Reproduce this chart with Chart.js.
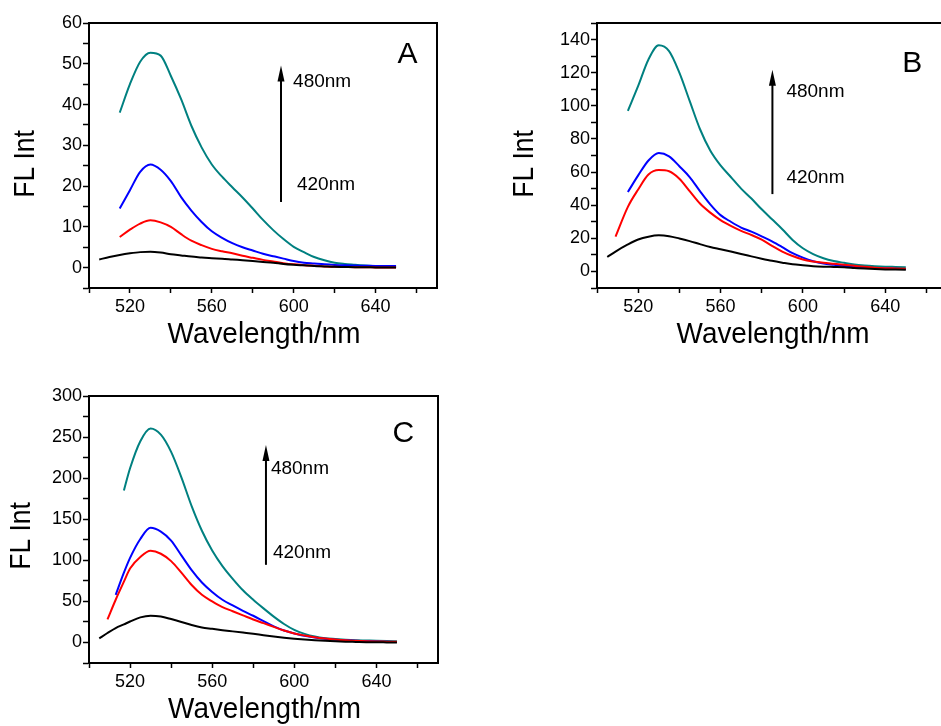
<!DOCTYPE html>
<html>
<head>
<meta charset="utf-8">
<script src="https://cdn.jsdelivr.net/npm/chart.js@4.4.1/dist/chart.umd.min.js"></script>
<style>
  html, body { margin: 0; padding: 0; background: #fff; overflow: hidden; }
  body { width: 941px; height: 726px; position: relative; }
  .panel { position: absolute; }
</style>
</head>
<body>
<div class="panel" style="left:0;top:0;width:470px;height:360px"><canvas id="chartA"></canvas></div>
<div class="panel" style="left:490px;top:0;width:480px;height:360px"><canvas id="chartB"></canvas></div>
<div class="panel" style="left:0;top:380px;width:470px;height:346px"><canvas id="chartC"></canvas></div>
<script>
// emission spectra, excitation 420 -> 480 nm (black, red, blue, teal)
const nmA = [505, 510, 515, 520, 525, 530, 535, 540, 545, 550, 555, 560, 565, 570, 575, 580, 585, 590, 595, 600, 605, 610, 615, 620, 625, 630, 635, 640, 645, 650];
const blackA = [2, 2.6, 3.1, 3.5, 3.8, 3.9, 3.7, 3.3, 3, 2.7, 2.5, 2.3, 2.2, 2, 1.8, 1.6, 1.4, 1.2, 0.9, 0.7, 0.55, 0.4, 0.3, 0.2, 0.15, 0.1, 0.1, 0.05, 0.05, 0];
const redA = [null, null, 7.5, 9.3, 10.8, 11.6, 11.1, 10, 8.2, 6.6, 5.5, 4.6, 4, 3.5, 2.9, 2.4, 1.9, 1.5, 1.1, 0.8, 0.6, 0.45, 0.3, 0.2, 0.15, 0.1, 0.1, 0.05, 0, 0];
const blueA = [null, null, 14.5, 19, 23.5, 25.3, 24, 21.2, 17.3, 14, 11.2, 8.9, 7.3, 6, 5, 4.2, 3.4, 2.8, 2.2, 1.6, 1.2, 1, 0.8, 0.65, 0.55, 0.5, 0.45, 0.4, 0.4, 0.4];
const tealA = [null, null, 38, 45, 50.5, 52.7, 52, 47, 41.3, 34.8, 29.5, 25.3, 22.3, 19.7, 17.2, 14.5, 11.7, 9.2, 7, 5.1, 3.8, 2.6, 1.8, 1.2, 0.9, 0.7, 0.5, 0.3, 0.2, 0.2];

const nmB = [505, 509, 515, 520, 525, 530, 535, 540, 545, 550, 555, 560, 565, 570, 575, 580, 585, 590, 595, 600, 605, 610, 615, 620, 625, 630, 635, 640, 645, 650];
const blackB = [8.7, 12, 16.3, 19.3, 21, 21.8, 21.3, 19.9, 18.3, 16.5, 14.8, 13.4, 12, 10.5, 9.1, 7.7, 6.4, 5.3, 4.3, 3.7, 3.2, 2.9, 2.7, 2.5, 2.1, 1.7, 1.4, 1.2, 1.1, 1];
const redB = [null, 21, 39, 49.5, 58.5, 61.2, 60.5, 56, 48.5, 41, 35.5, 31, 27.5, 24.5, 22, 19.2, 15.5, 12, 9.3, 7.2, 6, 5.2, 4.6, 4, 3.4, 2.8, 2.3, 2, 1.8, 1.6];
const blueB = [null, null, 48, 58, 67, 71.5, 69.5, 63.5, 57, 48.5, 40.5, 34, 30, 26.5, 24, 21.2, 18.2, 14.7, 11, 8.3, 6.2, 4.8, 4, 3.3, 2.8, 2.4, 2, 1.8, 1.6, 1.5];
const tealB = [null, null, 97, 112, 128, 136.5, 133, 120, 103, 86, 73, 64, 57, 50, 44, 37.5, 31.5, 25.5, 19, 14, 10.5, 8, 6.3, 5.2, 4.2, 3.6, 3.2, 2.9, 2.7, 2.5];

const nmC = [505, 509, 513, 517, 520, 525, 530, 535, 540, 545, 550, 555, 560, 565, 570, 575, 580, 585, 590, 595, 600, 605, 610, 615, 620, 625, 630, 635, 640, 645, 650];
const blackC = [5, 11.5, 17.5, 22, 25.5, 30.5, 32.5, 31.5, 28.5, 25, 21.2, 18.2, 16.6, 15, 13.5, 12, 10.5, 8.8, 7.2, 5.8, 4.6, 3.6, 2.7, 2, 1.4, 1, 0.7, 0.4, 0.2, 0.1, 0];
const redC = [null, 28, 52, 74, 90, 104, 111.5, 108, 99, 85, 70, 58, 50, 43, 38, 33, 28, 23.5, 19, 14.5, 11, 8.5, 6.3, 4.7, 3.5, 2.6, 2, 1.5, 1.2, 1, 0.8];
const blueC = [null, null, 58, 85, 103, 126, 139.5, 135, 124, 106, 88, 73, 61.5, 52, 45, 38.5, 32.5, 26, 19.5, 14.5, 11, 8, 6, 4.5, 3.4, 2.6, 2, 1.5, 1.1, 0.8, 0.5];
const tealC = [null, null, null, 185, 212, 245, 260.5, 253, 232, 201, 166, 136, 112, 93, 77.5, 63.5, 52, 41.5, 31.5, 22.5, 15.3, 10.5, 7.2, 5.2, 4.2, 3.4, 2.8, 2.4, 2, 1.7, 1.5];

const lineColors = ['#000000', '#ff0000', '#0000ff', '#008080'];
const FONT = '"Liberation Sans", Arial, sans-serif';

// frame, axis titles, arrow and panel letter
const decorations = {
  id: 'decorations',
  afterDraw(chart, args, o) {
    const { ctx, chartArea: a, scales: { x, y } } = chart;
    ctx.save();
    ctx.strokeStyle = '#000';
    ctx.fillStyle = '#000';
    ctx.lineWidth = 2;
    ctx.strokeRect(a.left, a.top, a.right - a.left, a.bottom - a.top);

    const ax = x.getPixelForValue(o.arrowX);
    const yLow = y.getPixelForValue(o.arrowFrom);
    const yTip = y.getPixelForValue(o.arrowTo);
    ctx.beginPath();
    ctx.moveTo(ax, yLow);
    ctx.lineTo(ax, yTip + 10);
    ctx.stroke();
    ctx.beginPath();
    ctx.moveTo(ax, yTip);
    ctx.lineTo(ax - 3.5, yTip + 16);
    ctx.lineTo(ax + 3.5, yTip + 16);
    ctx.closePath();
    ctx.fill();

    ctx.font = '19px ' + FONT;
    ctx.textAlign = 'left';
    ctx.textBaseline = 'middle';
    ctx.fillText('480nm', x.getPixelForValue(o.hiLabel[0]), y.getPixelForValue(o.hiLabel[1]));
    ctx.fillText('420nm', x.getPixelForValue(o.loLabel[0]), y.getPixelForValue(o.loLabel[1]));

    ctx.font = '30px ' + FONT;
    ctx.fillText(o.letter, x.getPixelForValue(o.letterAt[0]), y.getPixelForValue(o.letterAt[1]));

    // axis titles, slightly condensed
    ctx.textAlign = 'center';
    ctx.textBaseline = 'alphabetic';
    ctx.save();
    ctx.translate((a.left + a.right) / 2 + 1, a.bottom + 55);
    ctx.scale(0.93, 1);
    ctx.fillText('Wavelength/nm', 0, 0);
    ctx.restore();

    ctx.save();
    ctx.translate(a.left - o.yTitleOffset, o.yTitleY);
    ctx.rotate(-Math.PI / 2);
    ctx.scale(0.88, 1);
    ctx.textBaseline = 'middle';
    ctx.fillText('FL Int', 0, 0);
    ctx.restore();
    ctx.restore();
  }
};

function makePanel(id, nm, series, p) {
  const datasets = series.map((vals, i) => ({
    data: nm.map((w, k) => ({ x: w, y: vals[k] })),
    borderColor: lineColors[i],
    borderWidth: 2,
    pointRadius: 0,
    fill: false,
    cubicInterpolationMode: 'monotone'
  }));

  new Chart(document.getElementById(id), {
    type: 'line',
    data: { datasets: datasets },
    plugins: [decorations],
    options: {
      responsive: true,
      maintainAspectRatio: false,
      animation: false,
      events: [],
      layout: { padding: { top: p.top, right: p.right, left: 0, bottom: 0 } },
      plugins: {
        legend: { display: false },
        tooltip: { enabled: false },
        decorations: p.deco
      },
      scales: {
        x: {
          type: 'linear',
          min: 500,
          max: 670,
          afterFit: s => { s.height = p.xHeight; },
          border: { display: true, color: '#000', width: 2 },
          grid: { drawOnChartArea: false, drawTicks: true, tickLength: 5, color: '#000', tickWidth: 1.5 },
          ticks: {
            stepSize: 20,
            includeBounds: false,
            autoSkip: false,
            maxRotation: 0,
            padding: 3,
            color: '#000',
            font: { family: FONT, size: 18 },
            callback: v => (v % 40 === 0 ? String(v) : '')
          }
        },
        y: {
          min: p.yMin,
          max: p.yMax,
          afterFit: s => { s.width = p.yWidth; },
          border: { display: true, color: '#000', width: 2 },
          grid: { drawOnChartArea: false, drawTicks: true, tickLength: 6, color: '#000', tickWidth: 1.5 },
          ticks: {
            stepSize: p.yMinor,
            includeBounds: false,
            autoSkip: false,
            padding: 1,
            color: '#000',
            font: { family: FONT, size: 18 },
            callback: v => (v >= 0 && v % p.yMajor === 0 ? String(v) : '')
          }
        }
      }
    }
  });
}

makePanel('chartA', nmA, [blackA, redA, blueA, tealA], {
  top: 23, right: 33, xHeight: 72, yWidth: 89,
  yMin: -5, yMax: 60, yMinor: 5, yMajor: 10,
  deco: {
    arrowX: 593.8, arrowFrom: 16.1, arrowTo: 49.6,
    hiLabel: [599.7, 45.5], loLabel: [601.6, 20.2],
    letter: 'A', letterAt: [650.7, 52.3],
    yTitleOffset: 63, yTitleY: 164
  }
});

makePanel('chartB', nmB, [blackB, redB, blueB, tealB], {
  top: 23, right: 23, xHeight: 72, yWidth: 107,
  yMin: -10, yMax: 150, yMinor: 10, yMajor: 20,
  deco: {
    arrowX: 585.2, arrowFrom: 46.7, arrowTo: 121.8,
    hiLabel: [592, 108.5], loLabel: [592, 56.4],
    letter: 'B', letterAt: [648.3, 125.5],
    yTitleOffset: 72, yTitleY: 164
  }
});

makePanel('chartC', nmC, [blackC, redC, blueC, tealC], {
  top: 16, right: 32, xHeight: 63, yWidth: 89,
  yMin: -25, yMax: 300, yMinor: 25, yMajor: 50,
  deco: {
    arrowX: 586.2, arrowFrom: 94.5, arrowTo: 240.4,
    hiLabel: [588.6, 211.2], loLabel: [589.6, 109],
    letter: 'C', letterAt: [647.8, 253.8],
    yTitleOffset: 67, yTitleY: 156
  }
});
</script>
</body>
</html>
